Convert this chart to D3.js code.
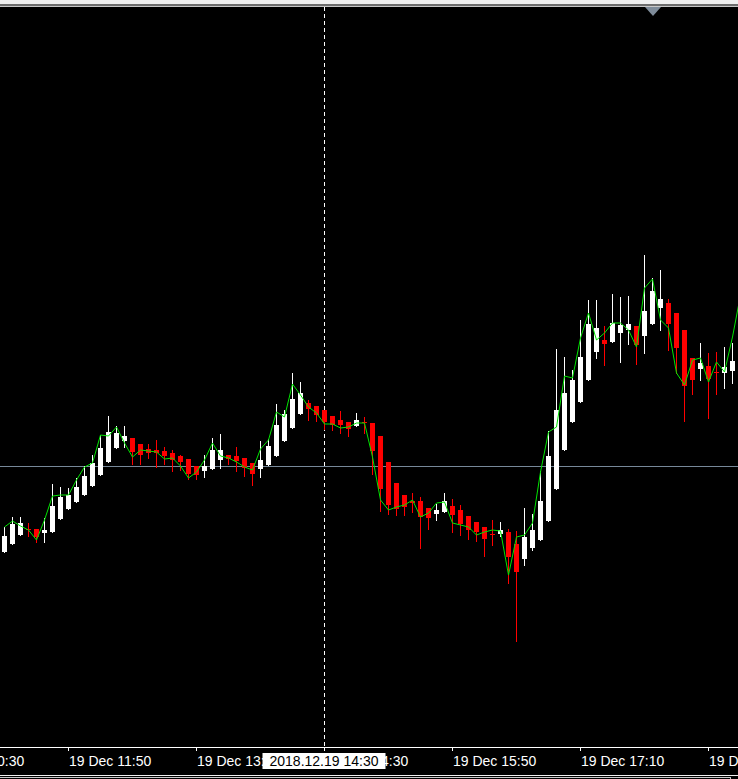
<!DOCTYPE html>
<html>
<head>
<meta charset="utf-8">
<script src="https://cdn.jsdelivr.net/npm/d3@7"></script>
<style>
  html, body { margin: 0; padding: 0; background: #000; overflow: hidden; }
  svg { display: block; }
</style>
</head>
<body>
<svg id="chart" width="738" height="779"></svg>
<script>
// ---------------- DATA ----------------
const startTime = "2018-12-19 11:10";   // first visible bar (M5)
const barMinutes = 5;

const openPrices = [
  1.13914,1.13922,1.13931,1.13937,1.13937,1.13933,1.13934,1.13947,1.13957,1.13964,
  1.13971,1.13980,1.13991,1.14004,1.14018,1.14025,1.14028,1.14022,1.14017,1.14016,
  1.14015,1.14013,1.14010,1.14007,1.14000,1.13995,1.13997,1.14006,1.14011,1.14010,
  1.14008,1.14003,1.13997,1.14001,1.14010,1.14025,1.14038,1.14052,1.14063,1.14060,
  1.14056,1.14050,1.14046,1.14044,1.14040,1.14044,1.14043,1.14030,1.14004,1.13983,
  1.13971,1.13965,1.13965,1.13958,1.13952,1.13954,1.13960,1.13956,1.13950,1.13944,
  1.13939,1.13932,1.13932,1.13934,1.13922,1.13907,1.13918,1.13926,1.13945,1.13977,
  1.14016,1.14044,1.14064,1.14086,1.14114,1.14126,1.14124,1.14133,1.14136,1.14140,
  1.14130,1.14142,1.14158,1.14163,1.14153,1.14136,1.14108,1.14097,1.14100,1.14094,
  1.14093,1.14095
];
const highPrices = [
  1.13939,1.13949,1.13949,1.13943,1.13937,1.13948,1.13982,1.13979,1.13978,1.13988,
  1.14000,1.14011,1.14031,1.14050,1.14040,1.14040,1.14028,1.14022,1.14022,1.14026,
  1.14019,1.14016,1.14011,1.14007,1.14000,1.14011,1.14028,1.14032,1.14011,1.14019,
  1.14008,1.14003,1.14025,1.14027,1.14062,1.14056,1.14093,1.14084,1.14066,1.14060,
  1.14056,1.14050,1.14055,1.14044,1.14053,1.14049,1.14043,1.14030,1.14004,1.13983,
  1.13971,1.13973,1.13969,1.13958,1.13962,1.13973,1.13967,1.13961,1.13950,1.13944,
  1.13939,1.13946,1.13944,1.13937,1.13935,1.13958,1.13952,1.13995,1.14035,1.14117,
  1.14109,1.14096,1.14146,1.14166,1.14166,1.14140,1.14172,1.14169,1.14170,1.14140,
  1.14211,1.14188,1.14196,1.14167,1.14153,1.14136,1.14108,1.14123,1.14113,1.14114,
  1.14119,1.14123
];
const lowPrices = [
  1.13914,1.13922,1.13931,1.13930,1.13924,1.13924,1.13934,1.13947,1.13957,1.13964,
  1.13971,1.13980,1.13991,1.14004,1.14018,1.14019,1.14002,1.14002,1.14008,1.13999,
  1.14002,1.13995,1.13996,1.13987,1.13987,1.13989,1.13997,1.13998,1.14002,1.13995,
  1.13990,1.13981,1.13989,1.14001,1.14010,1.14025,1.14038,1.14052,1.14046,1.14045,
  1.14037,1.14036,1.14033,1.14030,1.14040,1.14033,1.13992,1.13955,1.13952,1.13951,
  1.13951,1.13954,1.13918,1.13937,1.13946,1.13954,1.13934,1.13931,1.13927,1.13925,
  1.13910,1.13921,1.13930,1.13883,1.13825,1.13901,1.13916,1.13926,1.13945,1.13977,
  1.14016,1.14044,1.14064,1.14086,1.14108,1.14101,1.14124,1.14104,1.14122,1.14102,
  1.14113,1.14142,1.14136,1.14116,1.14093,1.14045,1.14072,1.14086,1.14048,1.14072,
  1.14078,1.14083
];
const closePrices = [
  1.13930,1.13942,1.13943,1.13936,1.13929,1.13936,1.13960,1.13969,1.13971,1.13979,
  1.13990,1.14003,1.14018,1.14034,1.14033,1.14030,1.14014,1.14011,1.14013,1.14013,
  1.14010,1.14006,1.14004,1.13992,1.13991,1.14000,1.14016,1.14016,1.14007,1.14005,
  1.13998,1.13992,1.14006,1.14020,1.14041,1.14052,1.14067,1.14073,1.14057,1.14051,
  1.14044,1.14041,1.14041,1.14037,1.14046,1.14043,1.14015,1.13977,1.13961,1.13957,
  1.13959,1.13963,1.13949,1.13948,1.13956,1.13965,1.13951,1.13942,1.13936,1.13934,
  1.13927,1.13931,1.13936,1.13909,1.13894,1.13929,1.13936,1.13965,1.14010,1.14056,
  1.14073,1.14086,1.14109,1.14142,1.14138,1.14122,1.14143,1.14141,1.14142,1.14121,
  1.14155,1.14175,1.14167,1.14142,1.14118,1.14080,1.14086,1.14103,1.14087,1.14093,
  1.14099,1.14105
];
// green line indicator (one value per bar, last value is the bar just past the right edge)
const lineValues = [
  1.13939,1.13945,1.13940,1.13936,1.13926,1.13946,1.13970,1.13971,1.13971,1.13986,
  1.13999,1.14003,1.14031,1.14030,1.14039,1.14023,1.14009,1.14016,1.14015,1.14014,
  1.14007,1.14008,1.14000,1.13988,1.13994,1.14006,1.14023,1.14010,1.14008,1.14004,
  1.13999,1.13996,1.14017,1.14026,1.14054,1.14049,1.14082,1.14071,1.14059,1.14053,
  1.14042,1.14042,1.14038,1.14039,1.14043,1.14043,1.14009,1.13966,1.13956,1.13959,
  1.13961,1.13966,1.13949,1.13953,1.13963,1.13964,1.13943,1.13941,1.13939,1.13931,
  1.13934,1.13936,1.13935,1.13891,1.13929,1.13931,1.13943,1.13994,1.14034,1.14039,
  1.14090,1.14088,1.14128,1.14153,1.14126,1.14133,1.14143,1.14143,1.14136,1.14119,
  1.14178,1.14187,1.14146,1.14138,1.14093,1.14081,1.14106,1.14108,1.14084,1.14104,
  1.14094,1.14129,1.14171
];
const priceTop = 1.14459, priceBottom = 1.13718;
const horizontalLinePrice = 1.14000;
const tickTimes = ["2018-12-19 10:30","2018-12-19 11:50","2018-12-19 13:10","2018-12-19 14:30",
                   "2018-12-19 15:50","2018-12-19 17:10","2018-12-19 18:30"];
const crosshairTime = "2018-12-19 14:30";

// ---------------- CHART ----------------
const W = 738, H = 779;
const plotTop = 7, axisY = 748;
const parse = d3.timeParse("%Y-%m-%d %H:%M");
const t0 = parse(startTime);
const barTime = i => d3.timeMinute.offset(t0, i * barMinutes);
const n = openPrices.length;

const bars = openPrices.map((o, i) => ({
  t: barTime(i), o, h: highPrices[i], l: lowPrices[i], c: closePrices[i]
}));
const lineData = lineValues.map((v, i) => ({ t: barTime(i), v }));

const x = d3.scaleTime().domain([barTime(0), barTime(n - 1)]).range([4.5, 4.5 + 8 * (n - 1)]);
const y = d3.scaleLinear().domain([priceBottom, priceTop]).range([axisY, plotTop]);

const svg = d3.select("#chart");
svg.append("rect").attr("width", W).attr("height", H).attr("fill", "#000");

// top frame strips
svg.append("rect").attr("x", 0).attr("y", 0).attr("width", W).attr("height", 4).attr("fill", "#f0f0f0");
svg.append("rect").attr("x", 0).attr("y", 4).attr("width", W).attr("height", 2).attr("fill", "#6e6e6e");
svg.append("rect").attr("x", 0).attr("y", 6).attr("width", W).attr("height", 1).attr("fill", "#c8c8c8");

svg.append("clipPath").attr("id", "plotClip")
  .append("rect").attr("x", 0).attr("y", plotTop).attr("width", W).attr("height", axisY - plotTop);

const plot = svg.append("g").attr("clip-path", "url(#plotClip)").attr("shape-rendering", "crispEdges");

// horizontal price line
plot.append("line")
  .attr("x1", 0).attr("x2", W)
  .attr("y1", Math.round(y(horizontalLinePrice)) + 0.5).attr("y2", Math.round(y(horizontalLinePrice)) + 0.5)
  .attr("stroke", "#778899").attr("stroke-width", 1);

// crosshair vertical (dashed)
const cx = Math.floor(x(parse(crosshairTime))) + 0.5;
plot.append("line")
  .attr("x1", cx).attr("x2", cx).attr("y1", plotTop).attr("y2", axisY)
  .attr("stroke", "#ffffff").attr("stroke-width", 1).attr("stroke-dasharray", "4,3");

// candles
const up = d => d.c >= d.o;
const cg = plot.append("g");
cg.selectAll("rect.wick").data(bars).join("rect")
  .attr("class", "wick")
  .attr("x", d => Math.floor(x(d.t)))
  .attr("width", 1)
  .attr("y", d => Math.round(y(d.h)))
  .attr("height", d => Math.max(1, Math.round(y(d.l)) - Math.round(y(d.h)) + 1))
  .attr("fill", d => up(d) ? "#ffffff" : "#ff0000");
cg.selectAll("rect.body").data(bars).join("rect")
  .attr("class", "body")
  .attr("x", d => Math.floor(x(d.t)) - 2)
  .attr("width", 5)
  .attr("y", d => Math.round(y(Math.max(d.o, d.c))))
  .attr("height", d => Math.max(1, Math.round(y(Math.min(d.o, d.c))) - Math.round(y(Math.max(d.o, d.c)))))
  .attr("fill", d => up(d) ? "#ffffff" : "#ff0000");

// green line
svg.append("g").attr("clip-path", "url(#plotClip)")
  .append("path")
  .datum(lineData)
  .attr("fill", "none")
  .attr("stroke", "#00e600")
  .attr("stroke-width", 1)
  .attr("d", d3.line().x(d => x(d.t)).y(d => y(d.v)));

// shift marker triangle
svg.append("path")
  .attr("d", "M645,7 L661,7 L653,16 Z")
  .attr("fill", "#7f8c9a");

// time axis
const fmt = d3.timeFormat("%d %b %H:%M");
const axis = d3.axisBottom(x)
  .tickValues(tickTimes.map(parse))
  .tickSize(3)
  .tickSizeOuter(0)
  .tickFormat(fmt);
const ax = svg.append("g").attr("transform", `translate(0,${axisY})`).call(axis);
ax.select(".domain").remove();
ax.selectAll(".tick line").attr("stroke", "#ffffff").attr("shape-rendering", "crispEdges")
  .attr("transform", "translate(-0.5,0)");
ax.selectAll(".tick text")
  .attr("fill", "#ffffff")
  .attr("text-anchor", "start")
  .attr("x", 0)
  .attr("y", 18)
  .attr("dy", null)
  .style("font-family", "'Liberation Sans', Arial, sans-serif")
  .style("font-size", "14px");
svg.append("line")
  .attr("x1", 0).attr("x2", W).attr("y1", axisY - 0.5).attr("y2", axisY - 0.5)
  .attr("stroke", "#ffffff").attr("stroke-width", 1).attr("shape-rendering", "crispEdges");

// crosshair time label
const labelFmt = d3.timeFormat("%Y.%m.%d %H:%M");
const lbl = svg.append("g");
lbl.append("rect").attr("x", cx - 62).attr("y", 753).attr("width", 123).attr("height", 16).attr("fill", "#ffffff");
lbl.append("text")
  .attr("x", cx - 0.5).attr("y", 766)
  .attr("text-anchor", "middle")
  .attr("fill", "#000000")
  .style("font-family", "'Liberation Sans', Arial, sans-serif")
  .style("font-size", "14px")
  .text(labelFmt(parse(crosshairTime)));

// bottom window border lines
svg.append("line").attr("x1", 0).attr("x2", W).attr("y1", 775.5).attr("y2", 775.5)
  .attr("stroke", "#f0f0f0").attr("shape-rendering", "crispEdges");
svg.append("path").attr("d", "M0,777.5 H730.5 V779")
  .attr("fill", "none").attr("stroke", "#c8c8c8").attr("shape-rendering", "crispEdges");
</script>
</body>
</html>
